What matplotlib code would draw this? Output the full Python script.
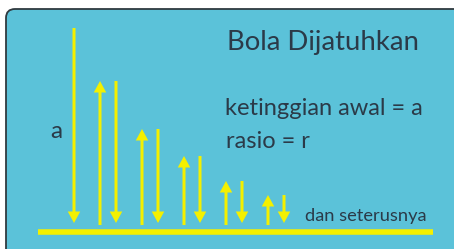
import matplotlib
matplotlib.use("Agg")
import matplotlib.pyplot as plt
from matplotlib.patches import FancyBboxPatch

# ---- data (heights of successive bounces, in pixel-like units) ----
bounce_heights = [197, 144, 96, 69, 44, 30]   # first = a (initial drop height)
title = "Bola Dijatuhkan"
line1 = "ketinggian awal = a"
line2 = "rasio = r"
footer = "dan seterusnya"
label_a = "a"

BG = "#5BC2D9"
YEL = "#F4F000"
TXT = "#2B3A48"
FONT = ["Lato", "DejaVu Sans"]

W, H = 454, 249
fig = plt.figure(figsize=(W / 100, H / 100), dpi=100)
ax = fig.add_axes([0, 0, 1, 1])
ax.set_xlim(0, W)
ax.set_ylim(-24, 225)
ax.axis("off")
fig.patch.set_facecolor("white")

# panel (rounded, extends past right/bottom edge)
panel = FancyBboxPatch((6, -60), 520, 276,
                       boxstyle="round,pad=0,rounding_size=9",
                       facecolor=BG, edgecolor="#2f3a40", linewidth=1.3)
ax.add_patch(panel)

# ground line
ax.plot([38, 433], [-7, -7], color=YEL, linewidth=4.0, solid_capstyle="butt")

# arrows
x0 = 74
step = 42
offset_up = 26
for i, h in enumerate(bounce_heights):
    xd = x0 + step * i
    ax.arrow(xd, h, 0, -(h - 2), width=3, head_width=12.5, head_length=11.5,
             length_includes_head=True, color=YEL, linewidth=0)
    if i + 1 < len(bounce_heights):
        xu = xd + offset_up
        hu = bounce_heights[i + 1]
        ax.arrow(xu, 0, 0, hu, width=3, head_width=12.5, head_length=11.5,
                 length_includes_head=True, color=YEL, linewidth=0)

fig.canvas.draw()
renderer = fig.canvas.get_renderer()


def fit_text(s, x, y, target_w):
    t = ax.text(x, y, s, fontsize=20, family=FONT, color=TXT,
                ha="left", va="baseline")
    w = t.get_window_extent(renderer).width
    t.set_fontsize(20 * target_w / w)
    return t


fit_text(title, 227, 175, 192)
fit_text(line1, 225, 110, 199)
fit_text(line2, 226, 77, 84)
fit_text(footer, 305, 4, 122)
fit_text(label_a, 50, 87, 12)

fig.savefig("out.png", dpi=100, facecolor="white")
